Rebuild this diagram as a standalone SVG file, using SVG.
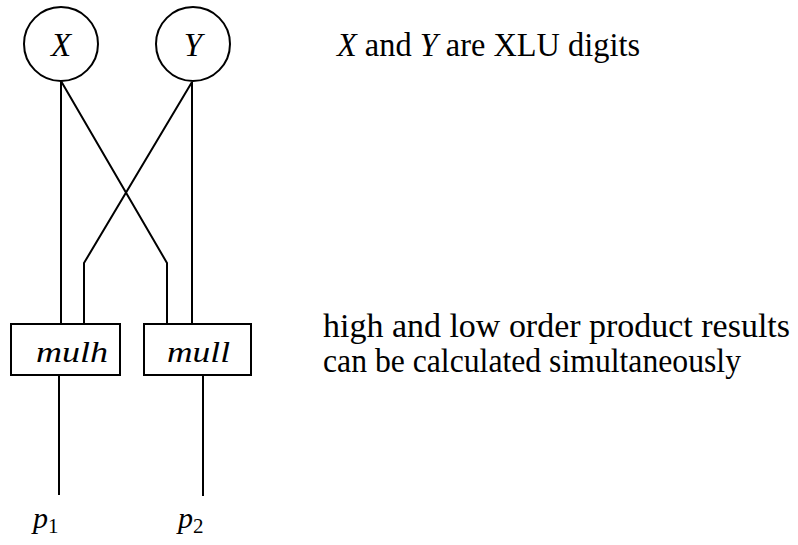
<svg xmlns="http://www.w3.org/2000/svg" width="798" height="545" viewBox="0 0 798 545">
<style>
.n{fill:#fff;stroke:#000;stroke-width:2}
.c{fill:none;stroke:#000;stroke-width:2;stroke-linejoin:miter}
text{font-family:'Liberation Serif',Tinos,'Times New Roman',Times,'Noto Serif','DejaVu Serif',serif;font-size:30px;fill:#000}
.i{font-style:italic}
.big{font-size:33px}
</style>
<rect width="798" height="545" fill="#fff"/>
<g id="connectors">
<path class="c" d="M61,81 V324"/>
<path class="c" d="M61,81 L167,263 V324"/>
<path class="c" d="M192,82 V324"/>
<path class="c" d="M192,82 L84,263 V324"/>
<path class="c" d="M59,375 V495"/>
<path class="c" d="M203,375 V496"/>
</g>
<g id="nodeX">
<circle class="n" cx="61" cy="44" r="37"/>
<text class="i big" x="61" y="56" text-anchor="middle">X</text>
</g>
<g id="nodeY">
<circle class="n" cx="193" cy="44" r="37"/>
<text class="i big" x="193" y="56" text-anchor="middle">Y</text>
</g>
<g id="mulh">
<rect class="n" x="11" y="324" width="109" height="51"/>
<text class="i" x="36" y="362" textLength="72" lengthAdjust="spacingAndGlyphs">mulh</text>
</g>
<g id="mull">
<rect class="n" x="144" y="324" width="107" height="51"/>
<text class="i" x="167" y="362" textLength="63" lengthAdjust="spacingAndGlyphs">mull</text>
</g>
<g id="p1">
<text x="33" y="528"><tspan class="i">p</tspan><tspan font-size="21" dy="5">1</tspan></text>
</g>
<g id="p2">
<text x="178" y="528"><tspan class="i">p</tspan><tspan font-size="21" dy="5">2</tspan></text>
</g>
<g id="notes">
<text class="big" x="337" y="56" textLength="303" lengthAdjust="spacingAndGlyphs"><tspan class="i">X</tspan> and <tspan class="i">Y</tspan> are XLU digits</text>
<text class="big" x="323" y="337" textLength="467" lengthAdjust="spacingAndGlyphs">high and low order product results</text>
<text class="big" x="323" y="372" textLength="418" lengthAdjust="spacingAndGlyphs">can be calculated simultaneously</text>
</g>
</svg>
